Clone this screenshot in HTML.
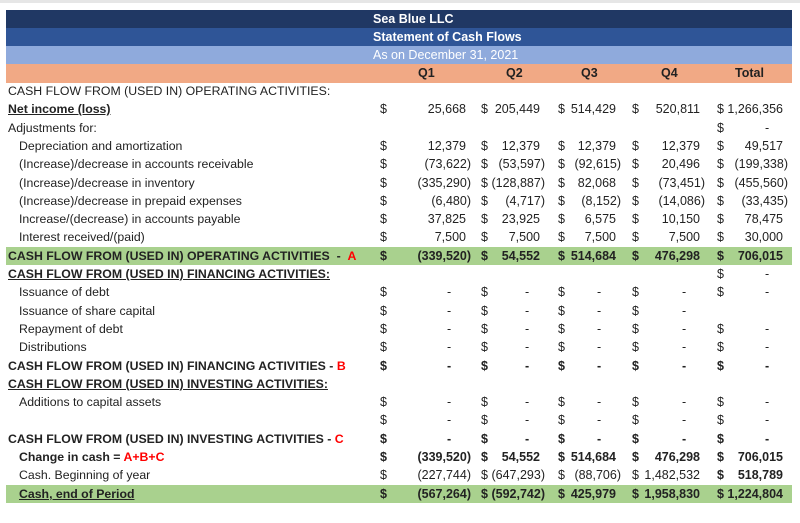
<!DOCTYPE html>
<html><head><meta charset="utf-8">
<style>
body{margin:0;background:#fff;width:800px;height:523px;overflow:hidden;position:relative;font-family:"Liberation Sans",sans-serif;font-size:12.3px;color:#222}
.top{position:absolute;left:0;top:0;width:800px;height:3px;background:#e6e6e6}
.h{position:absolute;left:6px;width:786px;height:18.3px;line-height:18.3px;color:#fff;font-weight:bold;font-size:12.5px}
.h span{position:absolute;left:367px}
.r{position:absolute;left:0;width:800px;height:18.3px;line-height:18.3px;white-space:nowrap}
.r>span{position:absolute}
.r>span[class^="d"],.r>span[class^="p"],.r>span[class^="q"],.r>span[class^="x"]{font-size:12.5px}
.g{background:#a9d18e;left:6px;width:786px}
.g>span.l0,.g>span.l1,.g>span[class^="d"],.g>span[class^="x"]{margin-left:-6px}
.g>span[class^="p"],.g>span[class^="q"]{margin-right:-8px}
.b{font-weight:bold}
.u{text-decoration:underline}
.red{color:#f00}
.l0{left:8px}.l1{left:19px}
.d1{left:380px}.d2{left:481px}.d3{left:558px}.d4{left:632px}.d5{left:717px}
.p1{right:329px}.p2{right:255px}.p3{right:179px}.p4{right:95px}.p5{right:12px}
.q1{right:334px}.q2{right:260px}.q3{right:184px}.q4{right:100px}.q5{right:17px}
.x1{left:447px}.x2{left:525px}.x3{left:597px}.x4{left:682px}.x5{left:765px}
</style></head><body>
<div class="top"></div>
<div class="h" style="top:9.5px;background:#203864"><span>Sea Blue LLC</span></div>
<div class="h" style="top:27.8px;background:#2f5597"><span>Statement of Cash Flows</span></div>
<div class="h" style="top:46.1px;background:#8faadc;font-weight:normal"><span>As on December 31, 2021</span></div>
<div class="h" style="top:64.4px;background:#f1a985;color:#222">
<span style="left:412px">Q1</span><span style="left:500px">Q2</span><span style="left:575px">Q3</span><span style="left:655px">Q4</span><span style="left:729px">Total</span></div>

<div class="r" style="top:82px"><span class="l0">CASH FLOW FROM (USED IN) OPERATING ACTIVITIES:</span></div>
<div class="r" style="top:100.3px"><span class="l0 b u">Net income (loss)</span>
<span class="d1">$</span><span class="q1">25,668</span><span class="d2">$</span><span class="q2">205,449</span><span class="d3">$</span><span class="q3">514,429</span><span class="d4">$</span><span class="q4">520,811</span><span class="d5">$</span><span class="q5">1,266,356</span></div>
<div class="r" style="top:118.6px"><span class="l0">Adjustments for:</span><span class="d5">$</span><span class="x5">-</span></div>
<div class="r" style="top:136.9px"><span class="l1">Depreciation and amortization</span>
<span class="d1">$</span><span class="q1">12,379</span><span class="d2">$</span><span class="q2">12,379</span><span class="d3">$</span><span class="q3">12,379</span><span class="d4">$</span><span class="q4">12,379</span><span class="d5">$</span><span class="q5">49,517</span></div>
<div class="r" style="top:155.2px"><span class="l1">(Increase)/decrease in accounts receivable</span>
<span class="d1">$</span><span class="p1">(73,622)</span><span class="d2">$</span><span class="p2">(53,597)</span><span class="d3">$</span><span class="p3">(92,615)</span><span class="d4">$</span><span class="q4">20,496</span><span class="d5">$</span><span class="p5">(199,338)</span></div>
<div class="r" style="top:173.5px"><span class="l1">(Increase)/decrease in inventory</span>
<span class="d1">$</span><span class="p1">(335,290)</span><span class="d2">$</span><span class="p2">(128,887)</span><span class="d3">$</span><span class="q3">82,068</span><span class="d4">$</span><span class="p4">(73,451)</span><span class="d5">$</span><span class="p5">(455,560)</span></div>
<div class="r" style="top:191.8px"><span class="l1">(Increase)/decrease in prepaid expenses</span>
<span class="d1">$</span><span class="p1">(6,480)</span><span class="d2">$</span><span class="p2">(4,717)</span><span class="d3">$</span><span class="p3">(8,152)</span><span class="d4">$</span><span class="p4">(14,086)</span><span class="d5">$</span><span class="p5">(33,435)</span></div>
<div class="r" style="top:210.1px"><span class="l1">Increase/(decrease) in accounts payable</span>
<span class="d1">$</span><span class="q1">37,825</span><span class="d2">$</span><span class="q2">23,925</span><span class="d3">$</span><span class="q3">6,575</span><span class="d4">$</span><span class="q4">10,150</span><span class="d5">$</span><span class="q5">78,475</span></div>
<div class="r" style="top:228.4px"><span class="l1">Interest received/(paid)</span>
<span class="d1">$</span><span class="q1">7,500</span><span class="d2">$</span><span class="q2">7,500</span><span class="d3">$</span><span class="q3">7,500</span><span class="d4">$</span><span class="q4">7,500</span><span class="d5">$</span><span class="q5">30,000</span></div>
<div class="r g b" style="top:246.7px"><span class="l0">CASH FLOW FROM (USED IN) OPERATING ACTIVITIES &nbsp;- &nbsp;<span class="red">A</span></span>
<span class="d1">$</span><span class="p1">(339,520)</span><span class="d2">$</span><span class="q2">54,552</span><span class="d3">$</span><span class="q3">514,684</span><span class="d4">$</span><span class="q4">476,298</span><span class="d5">$</span><span class="q5">706,015</span></div>
<div class="r" style="top:265px"><span class="l0 b u">CASH FLOW FROM (USED IN) FINANCING ACTIVITIES:</span><span class="d5">$</span><span class="x5">-</span></div>
<div class="r" style="top:283.3px"><span class="l1">Issuance of debt</span>
<span class="d1">$</span><span class="x1">-</span><span class="d2">$</span><span class="x2">-</span><span class="d3">$</span><span class="x3">-</span><span class="d4">$</span><span class="x4">-</span><span class="d5">$</span><span class="x5">-</span></div>
<div class="r" style="top:301.6px"><span class="l1">Issuance of share capital</span>
<span class="d1">$</span><span class="x1">-</span><span class="d2">$</span><span class="x2">-</span><span class="d3">$</span><span class="x3">-</span><span class="d4">$</span><span class="x4">-</span></div>
<div class="r" style="top:319.9px"><span class="l1">Repayment of debt</span>
<span class="d1">$</span><span class="x1">-</span><span class="d2">$</span><span class="x2">-</span><span class="d3">$</span><span class="x3">-</span><span class="d4">$</span><span class="x4">-</span><span class="d5">$</span><span class="x5">-</span></div>
<div class="r" style="top:338.2px"><span class="l1">Distributions</span>
<span class="d1">$</span><span class="x1">-</span><span class="d2">$</span><span class="x2">-</span><span class="d3">$</span><span class="x3">-</span><span class="d4">$</span><span class="x4">-</span><span class="d5">$</span><span class="x5">-</span></div>
<div class="r b" style="top:356.5px"><span class="l0">CASH FLOW FROM (USED IN) FINANCING ACTIVITIES - <span class="red">B</span></span>
<span class="d1">$</span><span class="x1">-</span><span class="d2">$</span><span class="x2">-</span><span class="d3">$</span><span class="x3">-</span><span class="d4">$</span><span class="x4">-</span><span class="d5">$</span><span class="x5">-</span></div>
<div class="r" style="top:374.8px"><span class="l0 b u">CASH FLOW FROM (USED IN) INVESTING ACTIVITIES:</span></div>
<div class="r" style="top:393.1px"><span class="l1">Additions to capital assets</span>
<span class="d1">$</span><span class="x1">-</span><span class="d2">$</span><span class="x2">-</span><span class="d3">$</span><span class="x3">-</span><span class="d4">$</span><span class="x4">-</span><span class="d5">$</span><span class="x5">-</span></div>
<div class="r" style="top:411.4px">
<span class="d1">$</span><span class="x1">-</span><span class="d2">$</span><span class="x2">-</span><span class="d3">$</span><span class="x3">-</span><span class="d4">$</span><span class="x4">-</span><span class="d5">$</span><span class="x5">-</span></div>
<div class="r b" style="top:429.7px"><span class="l0">CASH FLOW FROM (USED IN) INVESTING ACTIVITIES - <span class="red">C</span></span>
<span class="d1">$</span><span class="x1">-</span><span class="d2">$</span><span class="x2">-</span><span class="d3">$</span><span class="x3">-</span><span class="d4">$</span><span class="x4">-</span><span class="d5">$</span><span class="x5">-</span></div>
<div class="r b" style="top:448px"><span class="l1">Change in cash = <span class="red">A+B+C</span></span>
<span class="d1">$</span><span class="p1">(339,520)</span><span class="d2">$</span><span class="q2">54,552</span><span class="d3">$</span><span class="q3">514,684</span><span class="d4">$</span><span class="q4">476,298</span><span class="d5">$</span><span class="q5">706,015</span></div>
<div class="r" style="top:466.3px"><span class="l1">Cash. Beginning of year</span>
<span class="d1">$</span><span class="p1">(227,744)</span><span class="d2">$</span><span class="p2">(647,293)</span><span class="d3">$</span><span class="p3">(88,706)</span><span class="d4">$</span><span class="q4">1,482,532</span><span class="d5 b">$</span><span class="q5 b">518,789</span></div>
<div class="r g b" style="top:484.6px"><span class="l1 u">Cash, end of Period</span>
<span class="d1">$</span><span class="p1">(567,264)</span><span class="d2">$</span><span class="p2">(592,742)</span><span class="d3">$</span><span class="q3">425,979</span><span class="d4">$</span><span class="q4">1,958,830</span><span class="d5">$</span><span class="q5">1,224,804</span></div>
</body></html>
